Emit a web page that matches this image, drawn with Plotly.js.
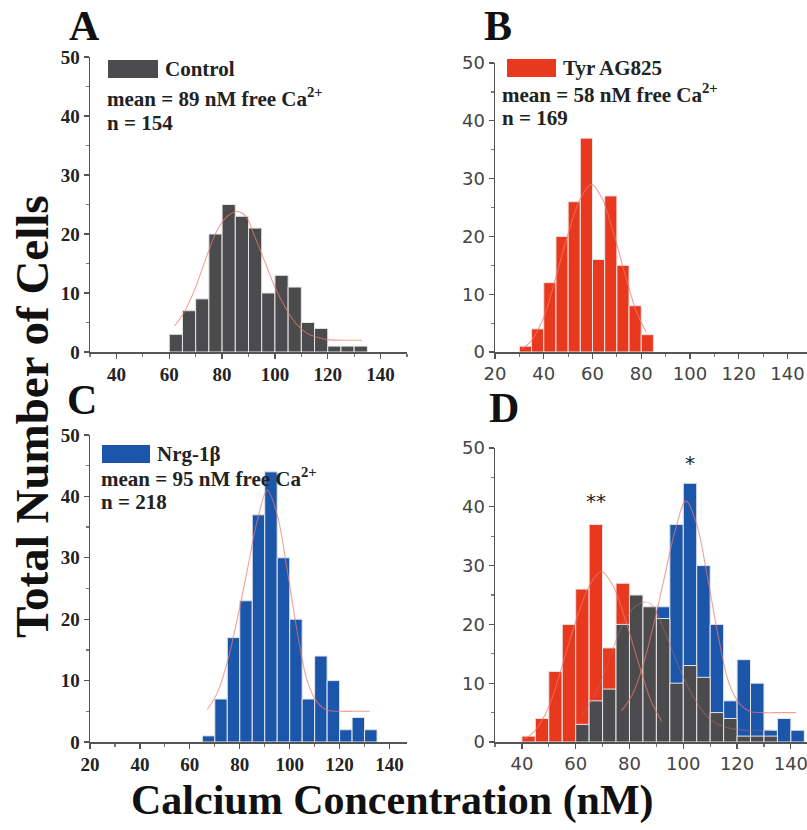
<!DOCTYPE html>
<html>
<head>
<meta charset="utf-8">
<script src="https://cdn.plot.ly/plotly-3.0.1.min.js"></script>
<style>html,body{margin:0;padding:0;background:#fff;}#chart{width:807px;height:830px;}</style>
</head>
<body>
<div id="chart"></div>
<script>
// ---- Data (bin left edges in nM, counts of cells) ----
const binWidth = 5;
const ctrlBins   = [60,65,70,75,80,85,90,95,100,105,110,115,120,125,130];
const ctrlCounts = [3,7,9,20,25,23,21,10,13,11,5,4,1,1,1];
const tyrBins    = [30,35,40,45,50,55,60,65,70,75,80];
const tyrCounts  = [1,4,12,20,26,37,16,27,15,8,3];
const nrgBins    = [65,70,75,80,85,90,95,100,105,110,115,120,125,130];
const nrgCounts  = [1,7,17,23,37,44,30,20,7,14,10,2,4,2];
// Panel D (overlay) bin positions as drawn in the figure
const ctrlBinsD  = [60,65,70,75,80,85,90,95,100,105,110,115,120,125,130];
const tyrBinsD   = [40,45,50,55,60,65,70,75,80,85,90];
const nrgBinsD   = [75,80,85,90,95,100,105,110,115,120,125,130,135,140];

// Fitted curves
const ctrlFitX = [62,66,70,74,78,82,86,89,92,96,100,104,108,112,116,120,126,133];
const ctrlFitY = [4.4,7,11,16,20.5,23,23.8,23,20,15.5,11,7.5,4.8,3.2,2.5,2.1,2,2];
const tyrFitX  = [31,35,40,45,50,55,59.5,64,69,74,78,82];
const tyrFitY  = [0.5,2,6,13,20.5,26.5,29,26.5,20,12.5,7,3.5];
const nrgFitX  = [67,71,75,79,83,87,91,95,99,103,107,111,115,120,126,132];
const nrgFitY  = [5.3,8,13,20,28,36,41,37,28,18,10,6.5,5.2,5,5,5];
const tyrFitXD = [41,45,50,55,60,65,69.5,74,79,84,88,92];
const nrgFitXD = [77,81,85,89,93,97,101,105,109,113,117,121,125,130,136,142];

const labels = {
  ctrl: ["Control", "mean = 89 nM free Ca<sup>2+</sup>", "n = 154"],
  tyr:  ["Tyr AG825", "mean = 58 nM free Ca<sup>2+</sup>", "n = 169"],
  nrg:  ["Nrg-1β", "mean = 95 nM free Ca<sup>2+</sup>", "n = 218"]
};
const stars = {x: [67.5, 102.5], y: [41, 47.5], text: ["**", "*"]};

// ---- Styles ----
const cGray = '#4b4b4e', cRed = '#e8391f', cBlue = '#1b56aa';
const fitColor = 'rgba(238,120,108,0.7)';
const barLine = {color: '#e6e6e6', width: 1};
const centers = b => b.map(v => v + binWidth / 2);

function bars(bins, counts, color, xa, ya) {
  return {type: 'bar', x: centers(bins), y: counts, width: binWidth,
    marker: {color: color, line: barLine}, xaxis: xa, yaxis: ya, hoverinfo: 'x+y'};
}
function fit(x, y, xa, ya, col) {
  return {type: 'scatter', mode: 'lines', x: x, y: y, xaxis: xa, yaxis: ya,
    line: {color: col || fitColor, width: 1.1, shape: 'spline'}, hoverinfo: 'skip'};
}

const traces = [
  bars(ctrlBins, ctrlCounts, cGray, 'x', 'y'),
  fit(ctrlFitX, ctrlFitY, 'x', 'y'),
  bars(tyrBins, tyrCounts, cRed, 'x2', 'y2'),
  fit(tyrFitX, tyrFitY, 'x2', 'y2'),
  bars(nrgBins, nrgCounts, cBlue, 'x3', 'y3'),
  fit(nrgFitX, nrgFitY, 'x3', 'y3'),
  bars(tyrBinsD, tyrCounts, cRed, 'x4', 'y4'),
  bars(nrgBinsD, nrgCounts, cBlue, 'x4', 'y4'),
  bars(ctrlBinsD, ctrlCounts, cGray, 'x4', 'y4'),
  fit(tyrFitXD, tyrFitY, 'x4', 'y4'),
  fit(nrgFitXD, nrgFitY, 'x4', 'y4'),
  fit(ctrlFitX, ctrlFitY, 'x4', 'y4', 'rgba(190,110,110,0.45)')
];

const serif = 'Liberation Serif, Times New Roman, serif';
const sans = 'DejaVu Sans, Liberation Sans, Arial, sans-serif';

function tfont(fam) {
  return fam === serif ? {family: serif, size: 19, color: '#222', weight: 'bold'}
                       : {family: sans, size: 18, color: '#444'};
}
function xax(domain, range, anchor, fam) {
  return {domain: domain, range: range, anchor: anchor, tick0: 0, dtick: 20,
    ticks: 'outside', ticklen: 5, tickwidth: 1.2, tickcolor: '#555',
    minor: {dtick: 10, ticks: 'outside', ticklen: 3, tickcolor: '#777'},
    showline: true, linecolor: '#555', linewidth: 1.5, showgrid: false, zeroline: false,
    ticklabeloverflow: 'allow', tickfont: tfont(fam), fixedrange: true};
}
function yax(domain, anchor, fam) {
  return {domain: domain, range: [0, 50], anchor: anchor, tick0: 0, dtick: 10,
    ticks: 'outside', ticklen: 5, tickwidth: 1.2, tickcolor: '#555',
    minor: {dtick: 5, ticks: 'outside', ticklen: 3, tickcolor: '#777'},
    showline: true, linecolor: '#555', linewidth: 1.5, showgrid: false, zeroline: false,
    tickfont: tfont(fam), fixedrange: true};
}

const W = 807, H = 830;
const px = v => v / W, py = v => 1 - v / H;

const annotations = [];
const shapes = [];
function legendBlock(lbl, color, sx0, sx1, sy0, sy1, tx, ty) {
  shapes.push({type: 'rect', xref: 'paper', yref: 'paper', x0: px(sx0), x1: px(sx1),
    y0: py(sy1), y1: py(sy0), fillcolor: color, line: {width: 0}});
  const f = {family: serif, size: 21, color: '#222', weight: 'bold'};
  annotations.push({xref: 'paper', yref: 'paper', x: px(sx1 + 5), y: py((sy0 + sy1) / 2),
    xanchor: 'left', yanchor: 'middle', text: lbl[0], showarrow: false, font: f});
  annotations.push({xref: 'paper', yref: 'paper', x: px(tx), y: py(ty[0]),
    xanchor: 'left', yanchor: 'middle', text: lbl[1], showarrow: false, font: f});
  annotations.push({xref: 'paper', yref: 'paper', x: px(tx), y: py(ty[1]),
    xanchor: 'left', yanchor: 'middle', text: lbl[2], showarrow: false, font: f});
}
legendBlock(labels.ctrl, cGray, 108, 158, 60, 78, 105, [98, 123]);
legendBlock(labels.tyr, cRed, 507, 556, 59, 77, 500, [94, 118]);
legendBlock(labels.nrg, cBlue, 102, 150, 445, 463, 99, [477, 502]);

const letterFont = {family: serif, size: 42, color: '#111', weight: 'bold'};
[['A', 84, 26], ['B', 498, 26], ['C', 82, 400], ['D', 504, 408]].forEach(l => {
  annotations.push({xref: 'paper', yref: 'paper', x: px(l[1]), y: py(l[2]), xanchor: 'center',
    yanchor: 'middle', text: l[0], showarrow: false, font: letterFont});
});
stars.x.forEach((x, i) => annotations.push({xref: 'x4', yref: 'y4', x: x, y: stars.y[i],
  text: stars.text[i], showarrow: false, font: {family: sans, size: 20, color: '#222'}}));

annotations.push({xref: 'paper', yref: 'paper', x: px(32), y: py(417), textangle: -90,
  text: 'Total Number of Cells', showarrow: false, xanchor: 'center', yanchor: 'middle',
  font: {family: serif, size: 47, color: '#111', weight: 'bold'}});
annotations.push({xref: 'paper', yref: 'paper', x: px(392), y: py(800),
  text: 'Calcium Concentration (nM)', showarrow: false, xanchor: 'center', yanchor: 'middle',
  font: {family: serif, size: 42, color: '#111', weight: 'bold'}});

const layout = {
  width: W, height: H, margin: {l: 0, r: 0, t: 0, b: 0},
  paper_bgcolor: '#fff', plot_bgcolor: '#fff', showlegend: false, barmode: 'overlay',
  xaxis:  xax([px(90), px(407)], [30, 150], 'y', serif),
  yaxis:  yax([py(352), py(57)], 'x', serif),
  xaxis2: xax([px(495), 1], [20, 148], 'y2', sans),
  yaxis2: yax([py(352), py(63)], 'x2', sans),
  xaxis3: xax([px(90), px(407)], [20, 147], 'y3', serif),
  yaxis3: yax([py(742), py(435)], 'x3', serif),
  xaxis4: xax([px(495), 1], [30, 146], 'y4', sans),
  yaxis4: yax([py(742), py(448)], 'x4', sans),
  annotations: annotations, shapes: shapes
};

Plotly.newPlot('chart', traces, layout, {displayModeBar: false, staticPlot: true});
</script>
</body>
</html>
